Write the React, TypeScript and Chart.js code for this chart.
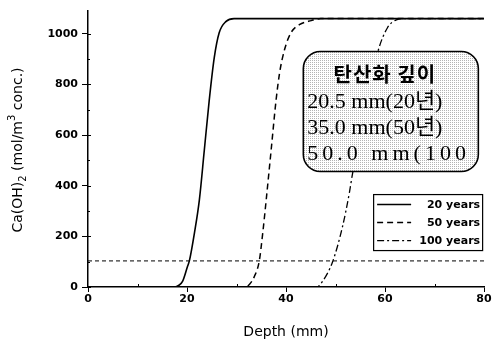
import React, { useEffect, useRef } from "react";
import { Chart, registerables } from "chart.js";

Chart.register(...registerables);

// ---- data ----
const years20X = [0, 17.5, 18.3, 19.1, 20.1, 20.5, 21.5, 22.5, 23.5, 24.5, 25.5, 26.5, 27.9, 29.5, 80];
const years20Y = [0, 0, 6, 22, 81, 105, 213, 344, 541, 739, 905, 1004, 1049, 1060, 1060];

const years50X = [0, 31.6, 32.6, 33.6, 34.6, 35.3, 36.0, 37.0, 38.0, 38.7, 39.7, 41.0, 42.7, 45.1, 47.0, 80];
const years50Y = [0, 0, 10, 41, 103, 213, 344, 541, 739, 845, 937, 1004, 1036, 1052, 1060, 1060];

const years100X = [0, 46.2, 47.3, 49.4, 51.4, 52.8, 53.4, 58.5, 60.5, 62.3, 64.0, 80];
const years100Y = [0, 0, 20, 99, 237, 372, 443, 925, 1024, 1055, 1060, 1060];

const thresholdX = [0, 80];
const thresholdY = [103, 103];

const seriesLabels = ["20 years", "50 years", "100 years"];
const xTicks = [0, 20, 40, 60, 80];
const yTicks = [0, 200, 400, 600, 800, 1000];
const xMinorTicks = [10, 30, 50, 70];
const yMinorTicks = [100, 300, 500, 700, 900];

const boxTitle = "탄산화 깊이";
const boxLines = ["20.5 mm(20년)", "35.0 mm(50년)", "50.0 mm(100"];

const TITLE_FONT_FAMILY = "'DejaVu Sans'";

function pts(xs: number[], ys: number[]) {
  return xs.map((x, i) => ({ x, y: ys[i] }));
}

const decorPlugin = {
  id: "decor",
  afterDatasetsDraw(chart: any) {
    const ctx: CanvasRenderingContext2D = chart.ctx;
    const xs = chart.scales.x;
    const ys = chart.scales.y;
    const area = chart.chartArea;

    // minor / inward ticks
    ctx.save();
    ctx.strokeStyle = "#000";
    ctx.lineWidth = 1;
    ctx.beginPath();
    yTicks.forEach((v) => {
      const py = Math.round(ys.getPixelForValue(v)) + 0.5;
      ctx.moveTo(area.left, py);
      ctx.lineTo(area.left + 3, py);
    });
    yMinorTicks.forEach((v) => {
      const py = Math.round(ys.getPixelForValue(v)) + 0.5;
      ctx.moveTo(area.left, py);
      ctx.lineTo(area.left + 2, py);
    });
    xMinorTicks.forEach((v) => {
      const px = Math.round(xs.getPixelForValue(v)) + 0.5;
      ctx.moveTo(px, area.bottom);
      ctx.lineTo(px, area.bottom - 3);
    });
    ctx.stroke();
    ctx.restore();

    // annotation box
    const bx = xs.getPixelForValue(43.5);
    const by = ys.getPixelForValue(930);
    const bw = 175;
    const bh = 120;
    const pc = document.createElement("canvas");
    pc.width = 2;
    pc.height = 2;
    const pctx = pc.getContext("2d")!;
    pctx.fillStyle = "#ffffff";
    pctx.fillRect(0, 0, 2, 2);
    pctx.fillStyle = "#b4b4b4";
    pctx.fillRect(0, 0, 1, 1);
    const pattern = ctx.createPattern(pc, "repeat")!;
    ctx.save();
    ctx.beginPath();
    (ctx as any).roundRect(bx, by, bw, bh, 17);
    ctx.fillStyle = pattern;
    ctx.fill();
    ctx.lineWidth = 1.6;
    ctx.strokeStyle = "#000";
    ctx.stroke();
    ctx.clip();
    ctx.fillStyle = "#000";
    ctx.textBaseline = "alphabetic";
    ctx.font = "bold 20px 'Noto Sans CJK KR'";
    ctx.textAlign = "center";
    (ctx as any).letterSpacing = "1px";
    ctx.fillText(boxTitle, bx + bw / 2 - 6, by + 30);
    (ctx as any).letterSpacing = "0px";
    ctx.textAlign = "left";
    ctx.font = "22px 'Liberation Serif', 'Noto Sans CJK KR'";
    ctx.fillText(boxLines[0], bx + 4, by + 56);
    ctx.fillText(boxLines[1], bx + 4, by + 82);
    (ctx as any).letterSpacing = "4px";
    ctx.fillText(boxLines[2], bx + 4, by + 108);
    (ctx as any).letterSpacing = "0px";
    ctx.restore();

    // legend box
    const lx = xs.getPixelForValue(57.6);
    const ly = ys.getPixelForValue(367);
    const lw = 109;
    const lh = 56;
    ctx.save();
    ctx.fillStyle = "#fff";
    ctx.fillRect(lx, ly, lw, lh);
    ctx.lineWidth = 1.2;
    ctx.strokeStyle = "#000";
    ctx.strokeRect(lx + 0.5, ly + 0.5, lw, lh);
    ctx.font = "bold 11px 'DejaVu Sans'";
    ctx.textAlign = "right";
    ctx.textBaseline = "middle";
    seriesLabels.forEach((lab, i) => {
      const ds = chart.data.datasets[i];
      const rowY = ly + 10 + i * 18;
      ctx.beginPath();
      ctx.setLineDash(ds.borderDash || []);
      ctx.lineWidth = ds.borderWidth;
      ctx.moveTo(lx + 4, rowY + 0.5);
      ctx.lineTo(lx + 38, rowY + 0.5);
      ctx.stroke();
      ctx.setLineDash([]);
      ctx.fillStyle = "#000";
      ctx.fillText(lab, lx + lw - 2, rowY + 1);
    });
    ctx.restore();

    // axis titles
    ctx.save();
    ctx.fillStyle = "#000";
    ctx.font = `14px ${TITLE_FONT_FAMILY}`;
    ctx.textAlign = "center";
    ctx.textBaseline = "middle";
    ctx.fillText("Depth (mm)", (area.left + area.right) / 2, area.bottom + 45);

    const segs = [
      { t: "Ca(OH)", s: 14, dy: 0 },
      { t: "2", s: 10, dy: 5 },
      { t: " (mol/m", s: 14, dy: 0 },
      { t: "3", s: 10, dy: -6 },
      { t: " conc.)", s: 14, dy: 0 },
    ];
    let total = 0;
    segs.forEach((sg) => {
      ctx.font = `${sg.s}px ${TITLE_FONT_FAMILY}`;
      total += ctx.measureText(sg.t).width;
    });
    ctx.translate(18, (area.top + area.bottom) / 2 + 1);
    ctx.rotate(-Math.PI / 2);
    ctx.textAlign = "left";
    let cx = -total / 2;
    segs.forEach((sg) => {
      ctx.font = `${sg.s}px ${TITLE_FONT_FAMILY}`;
      ctx.fillText(sg.t, cx, sg.dy);
      cx += ctx.measureText(sg.t).width;
    });
    ctx.restore();
  },
};

export default function App() {
  const ref = useRef<HTMLCanvasElement | null>(null);
  useEffect(() => {
    document.body.style.margin = "0";
    const canvas = ref.current!;
    const chart = new Chart(canvas, {
      type: "line",
      data: {
        datasets: [
          {
            label: seriesLabels[0],
            data: pts(years20X, years20Y),
            borderColor: "#000",
            borderWidth: 1.6,
            pointRadius: 0,
            cubicInterpolationMode: "monotone",
          },
          {
            label: seriesLabels[1],
            data: pts(years50X, years50Y),
            borderColor: "#000",
            borderWidth: 1.5,
            borderDash: [6, 4],
            pointRadius: 0,
            cubicInterpolationMode: "monotone",
          },
          {
            label: seriesLabels[2],
            data: pts(years100X, years100Y),
            borderColor: "#000",
            borderWidth: 1.3,
            borderDash: [7, 3, 2, 3],
            pointRadius: 0,
            cubicInterpolationMode: "monotone",
          },
          {
            label: "threshold",
            data: pts(thresholdX, thresholdY),
            borderColor: "#000",
            borderWidth: 1,
            borderDash: [4, 3],
            pointRadius: 0,
          },
        ],
      },
      options: {
        animation: false,
        responsive: false,
        events: [],
        layout: { padding: { top: 11, right: 9, left: 0, bottom: 0 } },
        plugins: { legend: { display: false }, tooltip: { enabled: false } },
        scales: {
          x: {
            type: "linear",
            min: 0,
            max: 80,
            afterBuildTicks: (s: any) => {
              s.ticks = xTicks.map((v) => ({ value: v }));
            },
            afterFit: (s: any) => {
              s.height = 52;
            },
            ticks: {
              font: { family: "'DejaVu Sans'", size: 11, weight: "bold" },
              color: "#000",
              padding: 1,
              maxRotation: 0,
              callback: (v: any) => String(v),
            },
            grid: { drawOnChartArea: false, drawTicks: true, tickLength: 5, color: "#000", lineWidth: 1 },
            border: { display: true, color: "#000", width: 1.5 },
          },
          y: {
            type: "linear",
            min: 0,
            max: 1090,
            afterBuildTicks: (s: any) => {
              s.ticks = yTicks.map((v) => ({ value: v }));
            },
            afterFit: (s: any) => {
              s.width = 88;
            },
            ticks: {
              font: { family: "'DejaVu Sans'", size: 11, weight: "bold" },
              color: "#000",
              padding: 4,
              callback: (v: any) => String(v),
            },
            grid: { drawOnChartArea: false, drawTicks: true, tickLength: 6, color: "#000", lineWidth: 1 },
            border: { display: true, color: "#000", width: 1.5 },
          },
        },
      },
      plugins: [decorPlugin],
    } as any);
    return () => chart.destroy();
  }, []);
  return (
    <div style={{ width: 493, height: 339 }}>
      <canvas ref={ref} width={493} height={339} />
    </div>
  );
}
